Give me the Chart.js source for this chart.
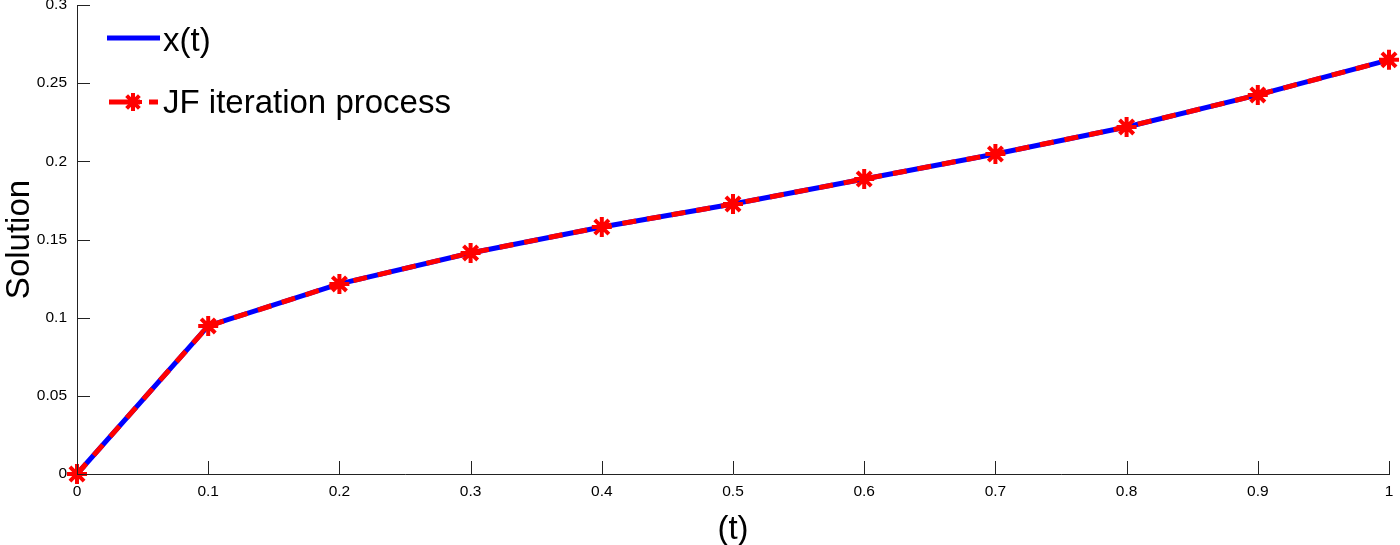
<!DOCTYPE html>
<html>
<head>
<meta charset="utf-8">
<script src="https://cdn.jsdelivr.net/npm/chart.js@4/dist/chart.umd.min.js"></script>
<style>
  html, body { margin: 0; padding: 0; background: #fff; }
  #wrap { width: 1400px; height: 545px; }
</style>
</head>
<body>
<div id="wrap"><canvas id="grafico"></canvas></div>
<script>
// Dados
const tempos = [0, 0.1, 0.2, 0.3, 0.4, 0.5, 0.6, 0.7, 0.8, 0.9, 1];
const solucaoExata = [0, 0.0947, 0.1216, 0.1414, 0.158, 0.1727, 0.1887, 0.2047, 0.222, 0.2425, 0.2649];
const solucaoJF = [0, 0.0947, 0.1216, 0.1414, 0.158, 0.1727, 0.1887, 0.2047, 0.222, 0.2425, 0.2649];
const ticksX = [0, 0.1, 0.2, 0.3, 0.4, 0.5, 0.6, 0.7, 0.8, 0.9, 1];
const ticksY = [0, 0.05, 0.1, 0.15, 0.2, 0.25, 0.3];

const fonte = '"Liberation Sans", Arial, Helvetica, sans-serif';

// Ticks para dentro + legenda dentro do gráfico
const estiloMatlab = {
  id: 'estiloMatlab',
  afterDraw(chart) {
    const ctx = chart.ctx;
    const a = chart.chartArea;
    const sx = chart.scales.x, sy = chart.scales.y;
    ctx.save();
    ctx.strokeStyle = '#222';
    ctx.lineWidth = 1;
    ctx.beginPath();
    ticksX.forEach(v => {
      const px = Math.round(sx.getPixelForValue(v)) + 0.5;
      ctx.moveTo(px, a.bottom);
      ctx.lineTo(px, a.bottom - 13);
    });
    ticksY.forEach(v => {
      const py = Math.round(sy.getPixelForValue(v)) + 0.5;
      ctx.moveTo(a.left, py);
      ctx.lineTo(a.left + 13, py);
    });
    ctx.stroke();

    // Legenda
    const ds = chart.data.datasets;
    ctx.font = '33px ' + fonte;
    ctx.textBaseline = 'middle';
    ctx.fillStyle = '#000';
    // x(t)
    ctx.strokeStyle = ds[0].borderColor;
    ctx.lineWidth = 5;
    ctx.beginPath();
    ctx.moveTo(107, 38);
    ctx.lineTo(160, 38);
    ctx.stroke();
    ctx.fillText(ds[0].label, 163, 42);
    // JF
    ctx.strokeStyle = ds[1].borderColor;
    ctx.beginPath();
    ctx.moveTo(109, 102);
    ctx.lineTo(140, 102);
    ctx.moveTo(149, 102);
    ctx.lineTo(158, 102);
    ctx.stroke();
    ctx.lineWidth = 4;
    ctx.beginPath();
    for (let k = 0; k < 4; k++) {
      const ang = k * Math.PI / 4;
      ctx.moveTo(133 - 9 * Math.cos(ang), 102 - 9 * Math.sin(ang));
      ctx.lineTo(133 + 9 * Math.cos(ang), 102 + 9 * Math.sin(ang));
    }
    ctx.stroke();
    ctx.fillText(ds[1].label, 163, 104);
    ctx.restore();
  }
};

new Chart(document.getElementById('grafico').getContext('2d'), {
  type: 'line',
  data: {
    datasets: [
      {
        label: 'x(t)',
        data: tempos.map((t, i) => ({ x: t, y: solucaoExata[i] })),
        borderColor: '#0000ff',
        borderWidth: 5,
        pointRadius: 0,
        tension: 0,
        clip: false,
        order: 2,
      },
      {
        label: 'JF iteration process',
        data: tempos.map((t, i) => ({ x: t, y: solucaoJF[i] })),
        borderColor: '#ff0000',
        borderWidth: 5,
        borderDash: [14, 11],
        pointStyle: 'star',
        pointRadius: 10,
        pointBorderWidth: 4,
        pointBorderColor: '#ff0000',
        pointBackgroundColor: '#ff0000',
        tension: 0,
        clip: false,
        order: 1,
      }
    ]
  },
  options: {
    responsive: true,
    maintainAspectRatio: false,
    animation: false,
    layout: { autoPadding: false, padding: { top: 5, right: 11, left: 0, bottom: 0 } },
    plugins: {
      legend: { display: false },
      tooltip: { enabled: false }
    },
    scales: {
      x: {
        type: 'linear',
        min: 0,
        max: 1,
        afterBuildTicks: s => { s.ticks = ticksX.map(v => ({ value: v })); },
        afterFit: s => { s.height = 71; s.paddingLeft = 0; s.paddingRight = 0; },
        grid: { display: false, drawTicks: false },
        border: { display: true, color: '#222', width: 1 },
        ticks: {
          color: '#000',
          padding: 8,
          maxRotation: 0,
          font: { family: fonte, size: 15.5 },
          callback: v => String(v)
        },
        title: {
          display: true,
          text: '(t)',
          color: '#000',
          padding: { top: 0, bottom: -5 },
          font: { family: fonte, size: 33 }
        }
      },
      y: {
        type: 'linear',
        min: 0,
        max: 0.3,
        afterBuildTicks: s => { s.ticks = ticksY.map(v => ({ value: v })); },
        afterFit: s => { s.width = 77; s.paddingTop = 0; s.paddingBottom = 0; },
        grid: { display: false, drawTicks: false },
        border: { display: true, color: '#222', width: 1 },
        ticks: {
          color: '#000',
          padding: 10,
          font: { family: fonte, size: 15.5, lineHeight: 0.1 },
          callback: v => String(v)
        },
        title: {
          display: true,
          text: 'Solution',
          color: '#000',
          padding: { top: 0, bottom: 0 },
          font: { family: fonte, size: 33 }
        }
      }
    }
  },
  plugins: [estiloMatlab]
});
</script>
</body>
</html>
